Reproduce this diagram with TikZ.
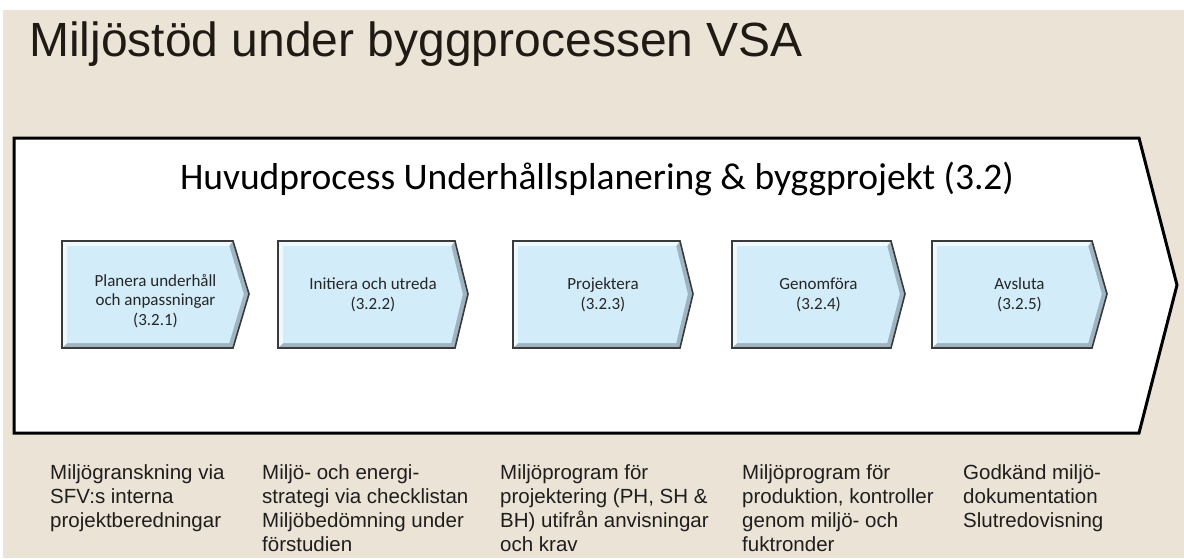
\documentclass[tikz,border=0pt]{standalone}
\usepackage{fontspec}
\setmainfont{Liberation Sans}
\newfontfamily\calfont{Carlito}
\definecolor{bg}{HTML}{EBE4D6}
\definecolor{boxfill}{HTML}{D3ECFA}
\definecolor{boxlight}{HTML}{EEF9FE}
\definecolor{boxdark}{HTML}{9FB4C0}
\definecolor{boxline}{HTML}{3A3A3A}
\definecolor{titlecol}{HTML}{201A15}
\definecolor{desccol}{HTML}{1E1E1E}
\tikzset{
  bigchev/.style={draw=black, line width=3pt, fill=white, line join=miter},
  boxedge/.style={draw=boxline, line width=1.6pt, line join=miter},
  boxtext/.style={align=center, inner sep=0pt, text=black!85,
    font=\calfont\fontsize{17}{19.5}\selectfont},
  desc/.style={anchor=base west, align=left, inner sep=0pt, text=desccol,
    font=\fontsize{20.5}{24}\selectfont},
}
\begin{document}
\begin{tikzpicture}[x=1pt,y=-1pt]
\useasboundingbox (0,0) rectangle (1184,558);
\fill[white] (0,0) rectangle (1184,558);
\fill[bg] (3,10) rectangle (1184,558);

\node[anchor=base west, inner sep=0pt, text=titlecol,
  font=\fontsize{48}{56}\selectfont] (title) at (29,56) {Miljöstöd under byggprocessen VSA};

\coordinate (m1) at (14,138);
\coordinate (m2) at (1139,138);
\coordinate (m3) at (1177,285);
\coordinate (m4) at (1139,433);
\coordinate (m5) at (14,433);
\path[bigchev] (m1) -- (m2) -- (m3) -- (m4) -- (m5) -- cycle;

\node[anchor=base, inner sep=0pt, text=black,
  font=\calfont\fontsize{37.5}{44}\selectfont] (main) at (597,189)
  {Huvudprocess Underhållsplanering \& byggprojekt (3.2)};

\foreach \i/\L/\R/\P/\Y/\txt in {
  1/62/233/249/301/{Planera underhåll\\och anpassningar\\(3.2.1)},
  2/278/455/468/295/{Initiera och utreda\\(3.2.2)},
  3/513/680/693/295/{Projektera\\(3.2.3)},
  4/732/891/905/295/{Genomföra\\(3.2.4)},
  5/932/1092/1107/295/{Avsluta\\(3.2.5)}}{
  \fill[boxdark] (\L,241) -- (\R,241) -- (\P,294) -- (\R,348) -- (\L,348) -- cycle;
  \fill[boxlight] (\L,348) -- (\L,241) -- (\R,241) -- (\R-3.8,246) -- (\L+5,246) -- (\L+5,343) -- cycle;
  \fill[boxfill] (\L+5,246) -- (\R-3.8,246) -- (\P-5.2,294) -- (\R-3.8,343) -- (\L+5,343) -- cycle;
  \path[boxedge] (\L,241) -- (\R,241) -- (\P,294) -- (\R,348) -- (\L,348) -- cycle;
  \node[boxtext] (s\i) at ({(\L+\P)/2},\Y) {\txt};
}

% base anchor of a multi-line node is the baseline of its last line
\node[desc] (d1) at (50,527) {Miljögranskning via\\SFV:s interna\\projektberedningar};
\node[desc] (d2) at (262,551) {Miljö- och energi-\\strategi via checklistan\\Miljöbedömning under\\förstudien};
\node[desc] (d3) at (500,551) {Miljöprogram för\\projektering (PH, SH \&\\BH) utifrån anvisningar\\och krav};
\node[desc] (d4) at (742,551) {Miljöprogram för\\produktion, kontroller\\genom miljö- och\\fuktronder};
\node[desc] (d5) at (963,527) {Godkänd miljö-\\dokumentation\\Slutredovisning};
\end{tikzpicture}
\end{document}
